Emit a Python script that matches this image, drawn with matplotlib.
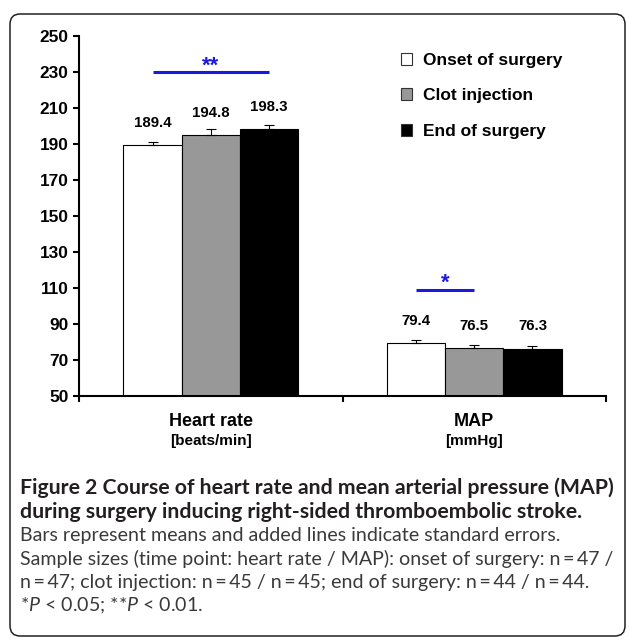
import matplotlib
matplotlib.use("Agg")
import matplotlib.pyplot as plt
import numpy as np
from matplotlib.patches import FancyBboxPatch, Rectangle

# ---------------- data ----------------
categories = ["Heart rate", "MAP"]
units = ["[beats/min]", "[mmHg]"]
series_names = ["Onset of surgery", "Clot injection", "End of surgery"]
onset = [189.4, 79.4]
clot = [194.8, 76.5]
end = [198.3, 76.3]
onset_se = [1.7, 1.5]
clot_se = [3.3, 1.7]
end_se = [2.4, 1.7]
yticks = [50, 70, 90, 110, 130, 150, 170, 190, 210, 230, 250]
# significance brackets
sig_cat = [0, 1]
sig_from = [0, 0]
sig_to = [2, 1]
sig_height = [230, 109]
sig_label = ["**", "*"]

caption_lines = [
    "Figure 2 Course of heart rate and mean arterial pressure (MAP)",
    "during surgery inducing right-sided thromboembolic stroke.",
    "Bars represent means and added lines indicate standard errors.",
    "Sample sizes (time point: heart rate / MAP): onset of surgery: n\u2009=\u200947 /",
    "n\u2009=\u200947; clot injection: n\u2009=\u200945 / n\u2009=\u200945; end of surgery: n\u2009=\u200944 / n\u2009=\u200944.",
    "*$P$ < 0.05; **$P$ < 0.01.",
]

W, H = 629, 643
DPI = 100
plt.rcParams['font.family'] = ['Liberation Sans', 'DejaVu Sans']
plt.rcParams['mathtext.fontset'] = 'custom'
plt.rcParams['mathtext.it'] = 'Lato:italic'
plt.rcParams['mathtext.rm'] = 'Lato'

fig = plt.figure(figsize=(W / DPI, H / DPI), dpi=DPI)

def fx(px):
    return px / W

def fy(py):
    return 1 - py / H

# border
border = FancyBboxPatch((fx(10), fy(636)), fx(615), (636 - 14) / H,
                        boxstyle="round,pad=0,rounding_size=0.016",
                        transform=fig.transFigure, fill=False,
                        edgecolor='#222222', linewidth=1.1)
fig.patches.append(border)

ax = fig.add_axes([fx(79), fy(396), fx(606 - 79), (396 - 36) / H])

series = [onset, clot, end]
ses = [onset_se, clot_se, end_se]
colors = ['white', '#989898', 'black']
bw = 0.221
x = np.arange(len(categories))
for i, (vals, se, c) in enumerate(zip(series, ses, colors)):
    xpos = x + (i - 1) * bw
    ax.bar(xpos, vals, width=bw, color=c, edgecolor='black', linewidth=0.8,
           bottom=0, zorder=2)
    ax.errorbar(xpos, vals, yerr=[np.zeros(len(se)), se], fmt='none',
                ecolor='black', elinewidth=0.8, capsize=3.3, capthick=0.8, zorder=3)
    for xp, v in zip(xpos, vals):
        ax.annotate(f"{v:.1f}", (xp, v), xytext=(0, 13.3), textcoords='offset points',
                    ha='center', va='baseline', fontsize=10.8, fontweight='bold')

for c, a, b, h, lab in zip(sig_cat, sig_from, sig_to, sig_height, sig_label):
    x0 = c + (a - 1) * bw
    x1 = c + (b - 1) * bw
    ax.plot([x0, x1], [h, h], color='#1a1adf', linewidth=2.2, solid_capstyle='butt', zorder=4)
    ax.annotate(lab, ((x0 + x1) / 2, h), xytext=(0, 0.5), textcoords='offset points',
                ha='center', va='baseline', fontsize=16, fontweight='bold', color='#1a1adf')

ax.set_ylim(50, 250)
ax.set_xlim(-0.5, 1.5)
ax.set_yticks(yticks)
ax.set_yticklabels([str(t) for t in yticks], fontsize=12.4, fontweight='bold')
ax.set_xticks([-0.5, 0.5, 1.5])
ax.set_xticklabels([])
for s in ['top', 'right']:
    ax.spines[s].set_visible(False)
for s in ['left', 'bottom']:
    ax.spines[s].set_linewidth(1.5)
ax.tick_params(axis='both', direction='out', length=4.5, width=1.5, pad=3)
ax.patch.set_alpha(0)

for xi, cat, un in zip(x, categories, units):
    ax.annotate(cat, (xi, 50), xytext=(0, -18.5), textcoords='offset points',
                ha='center', va='center', fontsize=13, fontweight='bold')
    ax.annotate(un, (xi, 50), xytext=(0, -32.5), textcoords='offset points',
                ha='center', va='center', fontsize=11, fontweight='bold')

# legend
leg_rows = [59, 94, 130]
for name, c, yy in zip(series_names, colors, leg_rows):
    fig.patches.append(Rectangle((fx(401), fy(yy + 5.5)), fx(11), 11 / H,
                                 transform=fig.transFigure, facecolor=c,
                                 edgecolor='#333333', linewidth=0.8))
    fig.text(fx(423), fy(yy), name, ha='left', va='center_baseline',
             fontsize=12.5, fontweight='bold')

# caption
cap_font = ['Lato', 'DejaVu Sans']
baselines = [494, 517.5, 541, 564.5, 588, 611.5]
renderer = fig.canvas.get_renderer()

def fit_size(text, weight, target):
    probe = fig.text(0, 0, text, fontsize=12, fontweight=weight, family=cap_font)
    wpx = probe.get_window_extent(renderer=renderer).width
    probe.remove()
    return 12 * target / wpx

bold_size = fit_size(caption_lines[0], 'bold', 591)
reg_size = fit_size(caption_lines[3], 'normal', 591)
for i, (line, yb) in enumerate(zip(caption_lines, baselines)):
    bold = i < 2
    fig.text(fx(20), fy(yb), line, ha='left', va='baseline', family=cap_font,
             fontsize=bold_size if bold else reg_size,
             fontweight='bold' if bold else 'normal',
             color='#231f20' if bold else '#3a3a3a')

fig.savefig("out.png", dpi=DPI)
